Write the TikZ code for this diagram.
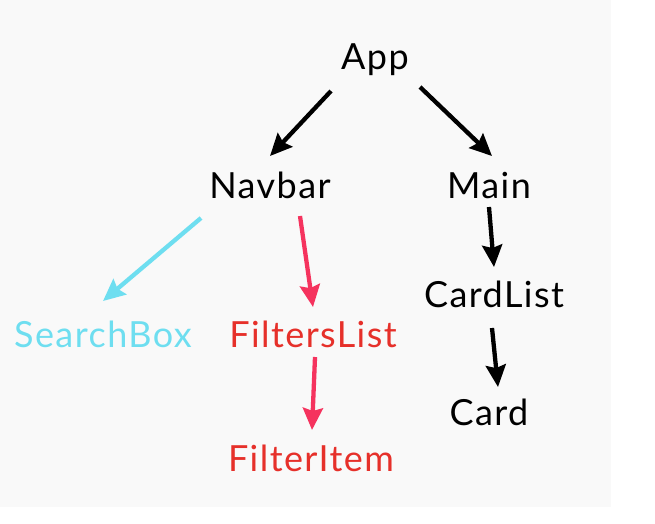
\documentclass[tikz,border=0pt]{standalone}
\usepackage{fontspec}
\setmainfont[LetterSpace=4]{Lato}
\usetikzlibrary{arrows.meta}
\definecolor{panel}{HTML}{F9F9F9}
\definecolor{inkcyan}{HTML}{6EDEF0}
\definecolor{inkred}{HTML}{E6302A}
\definecolor{arrowred}{HTML}{F5335E}
\begin{document}
\begin{tikzpicture}[x=1pt,y=-1pt,
  comp/.style={anchor=base,inner sep=0pt,font=\fontsize{36}{40}\selectfont},
  link/.style={line width=4.3pt,-{Stealth[length=22pt,width=20pt,inset=3pt]}},
]
\useasboundingbox (0,0) rectangle (655,523);
\fill[panel] (0,0) rectangle (611,507);

% component names
\node[comp] (app)   at (375,69)  {App};
\node[comp] (nav)   at (270,198) {Navbar};
\node[comp] (main)  at (489,198) {Main};
\node[comp,text=inkcyan] (search) at (103,347) {SearchBox};
\node[comp,text=inkred]  (flist)  at (313,347) {FiltersList};
\node[comp] (clist) at (494,307) {CardList};
\node[comp,text=inkred]  (fitem)  at (311,471) {FilterItem};
\node[comp] (card)  at (489,425) {Card};

% parent -> child links
\draw[link,black]     ([xshift=-44pt,yshift=-22pt]app.base) -- ([xshift=0pt,yshift=42pt]nav.base);
\draw[link,black]     ([xshift=45pt,yshift=-18pt]app.base) -- ([xshift=3pt,yshift=42pt]main.base);
\draw[link,inkcyan]   ([xshift=-69pt,yshift=-20pt]nav.base) -- ([xshift=0pt,yshift=46pt]search.base);
\draw[link,arrowred]  ([xshift=30pt,yshift=-18pt]nav.base) -- ([xshift=0pt,yshift=40pt]flist.base);
\draw[link,arrowred]  ([xshift=2pt,yshift=-10pt]flist.base) -- ([xshift=1pt,yshift=41pt]fitem.base);
\draw[link,black]     ([xshift=0pt,yshift=-9pt]main.base) -- ([xshift=0pt,yshift=40pt]clist.base);
\draw[link,black]     ([xshift=-2pt,yshift=-21pt]clist.base) -- ([xshift=9pt,yshift=38pt]card.base);
\end{tikzpicture}
\end{document}
